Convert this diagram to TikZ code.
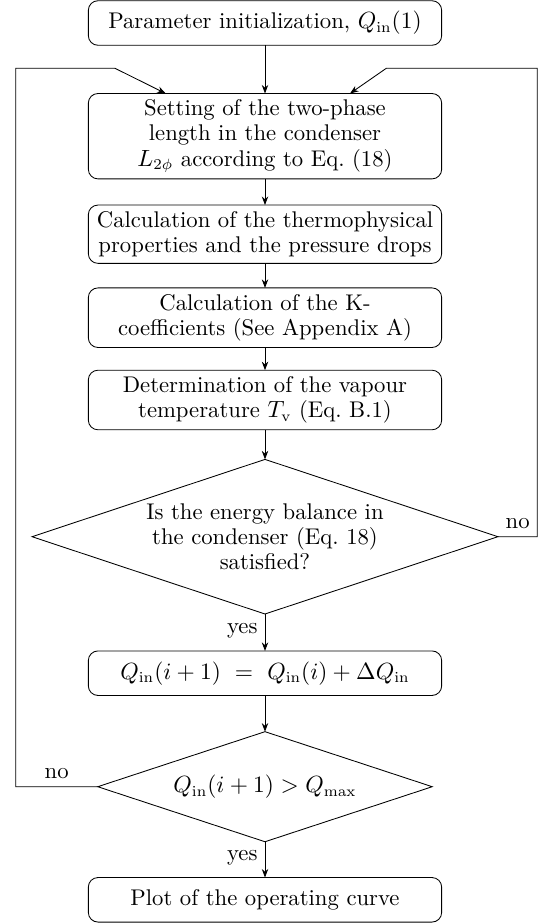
\documentclass[tikz,border=0pt]{standalone}
\usetikzlibrary{shapes.geometric,arrows.meta,calc}
\begin{document}
\begin{tikzpicture}[x=0.467pt,y=-0.467pt,
  every node/.style={font=\fontsize{10.6pt}{11.7pt}\selectfont},
  procbox/.style={draw,rectangle,rounded corners=4.5pt,minimum width=165pt,minimum height=20.8pt,align=center,inner sep=3pt,outer sep=0pt},
  decision/.style={draw,diamond,align=center,inner sep=0pt,outer sep=0pt,aspect=3},
  arr/.style={-{Stealth[length=4pt,width=3pt]}},
  lbl/.style={inner sep=3.33pt}]
\useasboundingbox (0,0) rectangle (549,924);

\node[procbox] (b1) at (265,23) {Parameter initialization, $Q_{\mathrm{in}}(1)$};
\node[procbox] (b2) at (265,136.2) {Setting of the two-phase\\ length in the condenser\\ $L_{2\phi}$ according to Eq.~(18)};
\node[procbox] (b3) at (265,234.2) {Calculation of the thermophysical\\ properties and the pressure drops};
\node[procbox] (b4) at (265,317.7) {Calculation of the K-\\ coefficients (See Appendix A)};
\node[procbox] (b5) at (265,400) {Determination of the vapour\\ temperature $T_{\mathrm{v}}$ (Eq.~B.1)};
\node[decision,minimum width=217.6pt,minimum height=72.2pt] (d1) at (265,536.7) {Is the energy balance in\\ the condenser (Eq.~18)\\ satisfied?};
\node[procbox] (bq) at (265,673.2) {$Q_{\mathrm{in}}(i+1)\ =\ Q_{\mathrm{in}}(i)+\Delta Q_{\mathrm{in}}$};
\node[decision,minimum width=156.2pt,minimum height=51.4pt] (d2) at (265,786.7) {$Q_{\mathrm{in}}(i+1) > Q_{\mathrm{max}}$};
\node[procbox] (b6) at (265,899.8) {Plot of the operating curve};

\coordinate (rA) at (537.3,536.7);
\coordinate (rB) at (386.3,68.3);
\coordinate (lA) at (15.7,786.7);
\coordinate (lB) at (115,68.3);

\draw[arr] (b1) -- (b2);
\draw[arr] (b2) -- (b3);
\draw[arr] (b3) -- (b4);
\draw[arr] (b4) -- (b5);
\draw[arr] (b5) -- (d1);
\draw[arr] (d1) -- node[lbl,left,pos=0.45]{yes} (bq);
\draw[arr] (bq) -- (d2);
\draw[arr] (d2) -- node[lbl,left,pos=0.45]{yes} (b6);

\draw[arr] (d1.east) -- node[lbl,above]{no} (rA) |- (rB) -- ($(b2.north)+(85,0)$);
\draw[arr] (d2.west) -- node[lbl,above]{no} (lA) |- (lB) -- ($(b2.north)+(-99.3,0)$);
\end{tikzpicture}
\end{document}
